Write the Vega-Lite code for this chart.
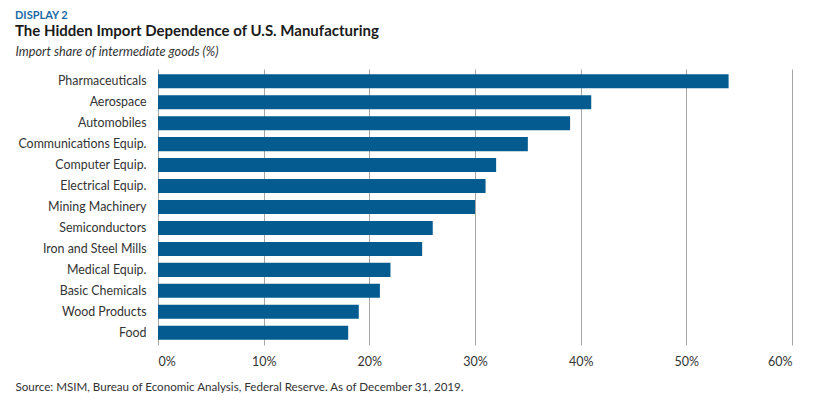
{
  "$schema": "https://vega.github.io/schema/vega-lite/v6.json",
  "width": 634,
  "height": 276,
  "autosize": {"type": "none"},
  "padding": {"left": 158, "top": 69, "right": 21, "bottom": 57},
  "background": "white",
  "title": {
    "text": "DISPLAY 2",
    "subtitle": "The Hidden Import Dependence of U.S. Manufacturing",
    "anchor": "start",
    "frame": "group",
    "dx": -143,
    "offset": 6,
    "font": "Lato",
    "fontSize": 11,
    "fontWeight": "bold",
    "color": "#1b6aa5",
    "subtitleFont": "Lato",
    "subtitleFontSize": 15,
    "subtitleFontWeight": "bold",
    "subtitleColor": "#1a1a1a",
    "subtitlePadding": 3
  },
  "config": {"view": {"stroke": null}, "font": "Lato"},
  "data": {
    "values": [
      {"sector": "Pharmaceuticals", "share": 0.54},
      {"sector": "Aerospace", "share": 0.41},
      {"sector": "Automobiles", "share": 0.39},
      {"sector": "Communications Equip.", "share": 0.35},
      {"sector": "Computer Equip.", "share": 0.32},
      {"sector": "Electrical Equip.", "share": 0.31},
      {"sector": "Mining Machinery", "share": 0.30},
      {"sector": "Semiconductors", "share": 0.26},
      {"sector": "Iron and Steel Mills", "share": 0.25},
      {"sector": "Medical Equip.", "share": 0.22},
      {"sector": "Basic Chemicals", "share": 0.21},
      {"sector": "Wood Products", "share": 0.19},
      {"sector": "Food", "share": 0.18}
    ]
  },
  "mark": {"type": "bar", "color": "#045b8f"},
  "encoding": {
    "y": {
      "field": "sector",
      "type": "nominal",
      "sort": null,
      "scale": {"paddingInner": 0.33, "paddingOuter": 0.25},
      "axis": {
        "title": "Import share of intermediate goods (%)",
        "titleAngle": 0,
        "titleAlign": "left",
        "titleBaseline": "alphabetic",
        "titleX": -143,
        "titleY": -14,
        "titleFont": "Lato",
        "titleFontStyle": "italic",
        "titleFontWeight": "normal",
        "titleFontSize": 12.7,
        "titleColor": "#333333",
        "labelFontSize": 12.4,
        "labelColor": "#333333",
        "labelPadding": 12,
        "ticks": false,
        "domain": false,
        "grid": false
      }
    },
    "x": {
      "field": "share",
      "type": "quantitative",
      "scale": {"domain": [0, 0.6]},
      "axis": {
        "format": ".0%",
        "values": [0, 0.1, 0.2, 0.3, 0.4, 0.5, 0.6],
        "grid": true,
        "gridColor": "#a6a6a6",
        "gridWidth": 1,
        "ticks": false,
        "domain": false,
        "labelPadding": 10,
        "labelFontSize": 12.5,
        "labelColor": "#333333",
        "title": "Source: MSIM, Bureau of Economic Analysis, Federal Reserve. As of December 31, 2019.",
        "titleAnchor": "start",
        "titleAlign": "left",
        "titleBaseline": "alphabetic",
        "titleX": -143,
        "titleY": 45,
        "titleFontWeight": "normal",
        "titleFontSize": 11.6,
        "titleColor": "#333333"
      }
    }
  }
}
